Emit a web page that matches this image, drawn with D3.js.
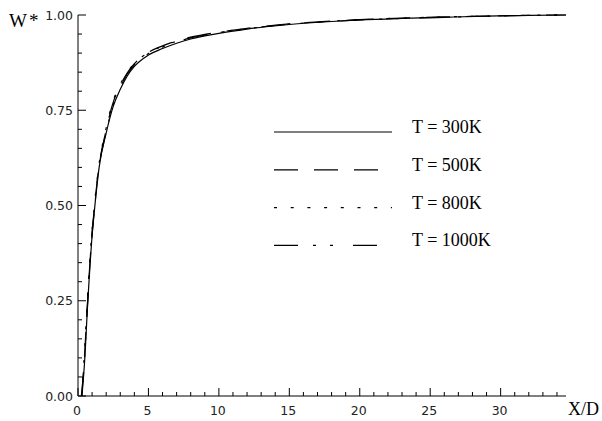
<!DOCTYPE html>
<html>
<head>
<meta charset="utf-8">
<script src="https://cdn.jsdelivr.net/npm/d3@7"></script>
<style>
  body { margin: 0; background: #fff; }
  .tick-label { font-family: "DejaVu Sans", sans-serif; font-size: 12.5px; fill: #222; }
  .serif { font-family: "Liberation Serif", "Times New Roman", serif; fill: #000; }
</style>
</head>
<body>
<svg id="chart" width="602" height="421"></svg>
<script>
// W* profiles along X/D
var x300 = [0.28, 0.45, 0.7, 1.0, 1.2, 1.5, 2.0, 2.5, 3.0, 3.5, 4.0, 5.0, 6.0, 7.0, 8.0, 9.0, 10, 12, 15, 18, 20, 23, 26, 29, 32, 34.64];
var w300 = [0.00, 0.08, 0.25, 0.42, 0.50, 0.60, 0.69, 0.76, 0.805, 0.84, 0.865, 0.895, 0.912, 0.926, 0.937, 0.945, 0.952, 0.963, 0.975, 0.983, 0.987, 0.991, 0.994, 0.997, 0.999, 1.0];

var x500 = [0.25, 0.42, 0.68, 0.98, 1.18, 1.48, 1.95, 2.45, 3.0, 3.5, 4.0, 5.0, 6.0, 7.0, 8.0, 9.0, 10, 12, 15, 18, 20, 23, 26, 29, 32, 34.64];
var w500 = [0.00, 0.08, 0.25, 0.42, 0.50, 0.60, 0.69, 0.765, 0.815, 0.848, 0.872, 0.902, 0.919, 0.932, 0.942, 0.949, 0.955, 0.965, 0.977, 0.984, 0.988, 0.992, 0.995, 0.997, 0.999, 1.0];

var x800 = [0.24, 0.4, 0.66, 0.96, 1.16, 1.46, 1.95, 2.45, 3.0, 3.5, 4.0, 5.0, 6.0, 7.0, 8.0, 9.0, 10, 12, 15, 18, 20, 23, 26, 29, 32, 34.64];
var w800 = [0.00, 0.08, 0.25, 0.42, 0.50, 0.60, 0.695, 0.77, 0.818, 0.85, 0.873, 0.901, 0.918, 0.931, 0.941, 0.948, 0.954, 0.964, 0.976, 0.984, 0.988, 0.992, 0.995, 0.997, 0.999, 1.0];

var x1000 = [0.26, 0.43, 0.69, 0.99, 1.19, 1.49, 1.98, 2.48, 3.0, 3.5, 4.0, 5.0, 6.0, 7.0, 8.0, 9.0, 10, 12, 15, 18, 20, 23, 26, 29, 32, 34.64];
var w1000 = [0.00, 0.08, 0.25, 0.42, 0.50, 0.60, 0.69, 0.762, 0.81, 0.845, 0.869, 0.899, 0.916, 0.929, 0.94, 0.947, 0.953, 0.964, 0.976, 0.983, 0.987, 0.991, 0.994, 0.997, 0.999, 1.0];

var legendNames = ["T = 300K", "T = 500K", "T = 800K", "T = 1000K"];
var xTicks = [0, 5, 10, 15, 20, 25, 30];
var yTicks = [0, 0.25, 0.5, 0.75, 1.0];

var series = [
    {name: legendNames[0], xs: x300, ws: w300, dash: null},
    {name: legendNames[1], xs: x500, ws: w500, dash: "24,16"},
    {name: legendNames[2], xs: x800, ws: w800, dash: "3,13.7"},
    {name: legendNames[3], xs: x1000, ws: w1000, dash: "24,15,3,14,3,20"}
];

var svg = d3.select("#chart");
var margin = {left: 78, top: 15, right: 36, bottom: 25};
var W = 602, H = 421;

var x = d3.scaleLinear().domain([0, 34.64]).range([margin.left, W - margin.right]);
var y = d3.scaleLinear().domain([0, 1]).range([H - margin.bottom, margin.top]);

// axes: ticks point into the plot
var xMinor = d3.range(0, 35, 1);
var yMinor = d3.range(0, 1.0001, 0.05);

var gx = svg.append("g").attr("transform", "translate(0," + y(0) + ")");
gx.append("line").attr("x1", x(0)).attr("x2", x(34.64)).attr("stroke", "#000");
gx.selectAll(".minor").data(xMinor).enter().append("line")
    .attr("x1", function(d){ return x(d); }).attr("x2", function(d){ return x(d); })
    .attr("y1", 0).attr("y2", function(d){ return d % 5 === 0 ? -8 : -4; })
    .attr("stroke", "#000");
gx.selectAll("text").data(xTicks).enter().append("text")
    .attr("class", "tick-label")
    .attr("x", function(d){ return x(d) - 1; }).attr("y", 19)
    .attr("text-anchor", "middle")
    .text(function(d){ return d; });

var gy = svg.append("g").attr("transform", "translate(" + x(0) + ",0)");
gy.append("line").attr("y1", y(0)).attr("y2", y(1)).attr("stroke", "#000");
gy.selectAll(".minor").data(yMinor).enter().append("line")
    .attr("y1", function(d){ return y(d); }).attr("y2", function(d){ return y(d); })
    .attr("x1", 0).attr("x2", function(d){ return Math.round(d * 100) % 25 === 0 ? 8 : 4; })
    .attr("stroke", "#000");
gy.selectAll("text").data(yTicks).enter().append("text")
    .attr("class", "tick-label")
    .attr("x", -5).attr("y", function(d){ return y(d) + 4.5; })
    .attr("text-anchor", "end")
    .text(function(d){ return d3.format(".2f")(d); });

svg.append("text").attr("class", "serif").attr("x", 9).attr("y", 27)
    .style("font-size", "19px").style("letter-spacing", "2px").text("W*");
svg.append("text").attr("class", "serif").attr("x", 568).attr("y", 415)
    .style("font-size", "18px").text("X/D");

var line = d3.line()
    .x(function(d){ return x(d[0]); })
    .y(function(d){ return y(d[1]); })
    .curve(d3.curveMonotoneX);

series.forEach(function(s){
    var pts = s.xs.map(function(v, i){ return [v, s.ws[i]]; });
    svg.append("path")
        .datum(pts)
        .attr("d", line)
        .attr("fill", "none")
        .attr("stroke", "#000")
        .attr("stroke-width", 1.2)
        .attr("stroke-dasharray", s.dash);
});

// legend
var leg = svg.append("g");
series.forEach(function(s, i){
    var ly = 132 + i * 37.8;
    leg.append("line")
        .attr("x1", 274).attr("x2", 392).attr("y1", ly).attr("y2", ly)
        .attr("stroke", "#000").attr("stroke-width", 1.2)
        .attr("stroke-dasharray", s.dash);
    leg.append("text").attr("class", "serif")
        .attr("x", 412).attr("y", ly + 1)
        .style("font-size", "18px")
        .text(s.name);
});
</script>
</body>
</html>
